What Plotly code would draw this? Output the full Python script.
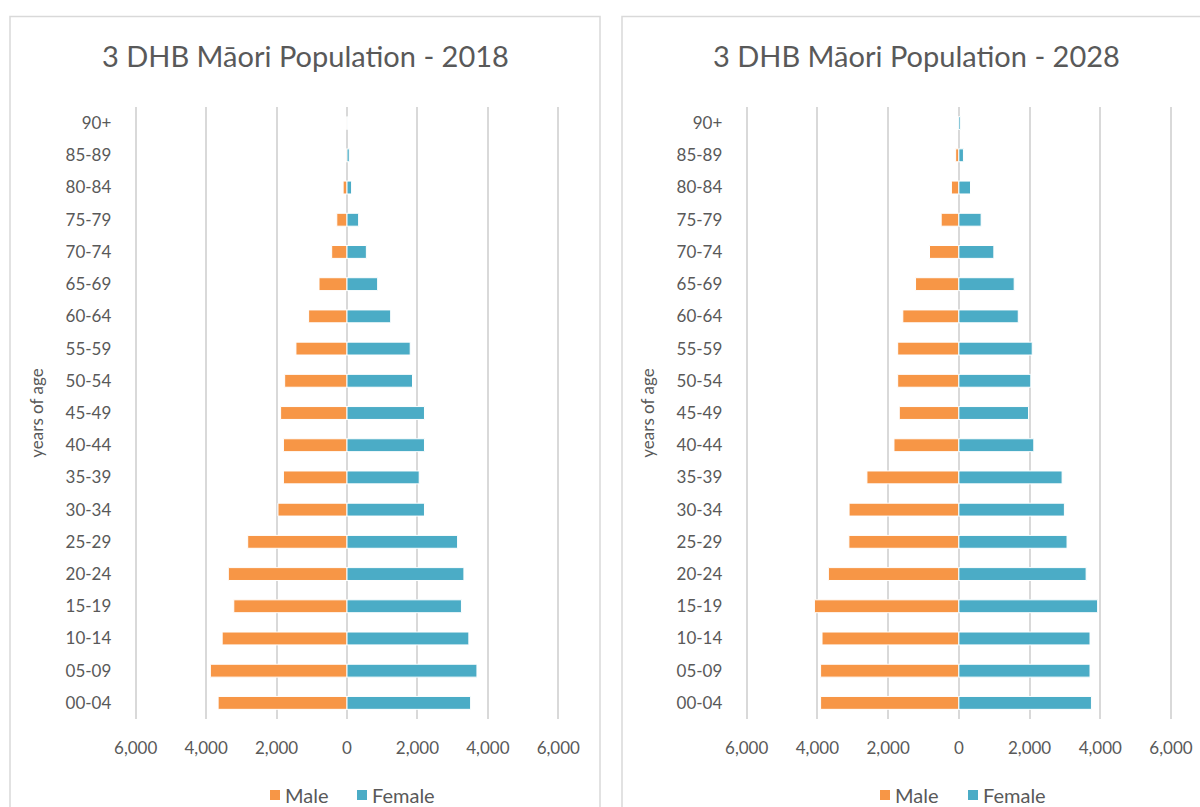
import plotly.graph_objects as go

# Age bands, bottom of the pyramid first
age_groups = ["00-04", "05-09", "10-14", "15-19", "20-24", "25-29", "30-34",
              "35-39", "40-44", "45-49", "50-54", "55-59", "60-64", "65-69",
              "70-74", "75-79", "80-84", "85-89", "90+"]

male_2018 = [3660, 3880, 3545, 3215, 3370, 2820, 1960, 1805, 1805, 1885,
             1770, 1450, 1090, 795, 435, 290, 110, 25, 5]
female_2018 = [3510, 3690, 3460, 3250, 3320, 3140, 2200, 2050, 2200, 2200,
               1860, 1795, 1240, 870, 550, 330, 130, 65, 10]

male_2028 = [3910, 3910, 3870, 4085, 3690, 3110, 3105, 2600, 1835, 1685,
             1730, 1730, 1585, 1225, 830, 500, 210, 90, 15]
female_2028 = [3750, 3710, 3710, 3925, 3600, 3060, 2985, 2920, 2120, 1970,
               2035, 2075, 1680, 1565, 990, 630, 330, 130, 50]

x_tick_values = [-6000, -4000, -2000, 0, 2000, 4000, 6000]
x_tick_labels = ["6,000", "4,000", "2,000", "0", "2,000", "4,000", "6,000"]

titles = ["3 DHB Māori Population - 2018", "3 DHB Māori Population - 2028"]
series_names = ["Male", "Female"]

MALE = "#F79646"
FEMALE = "#4BACC6"
TEXT = "#595959"
GRID = "#D9D9D9"
FONT = "Lato"

W, H = 1200, 807
X_PAD = 40  # small extension past ±6000 so the outer gridlines are drawn


def px_x(v):
    return v / W


def px_y(v):
    return 1 - v / H


fig = go.Figure()

panels = [
    dict(male=male_2018, female=female_2018, xa="x", ya="y",
         plot=(135.7, 558.3), frame=(10, 600), title=titles[0],
         title_x=305, key_x=(270, 357)),
    dict(male=male_2028, female=female_2028, xa="x2", ya="y2",
         plot=(746.7, 1171.0), frame=(622, 1220), title=titles[1],
         title_x=916, key_x=(880, 968)),
]

plot_top, plot_bottom = 107, 719
key_y = 795

for i, p in enumerate(panels):
    fig.add_trace(go.Bar(
        y=age_groups, x=[-v for v in p["male"]], orientation="h",
        name=series_names[0], marker=dict(color=MALE, line=dict(color="white", width=1)),
        xaxis=p["xa"], yaxis=p["ya"], showlegend=False,
        customdata=p["male"], hovertemplate="%{y}: %{customdata:,}<extra>Male</extra>",
    ))
    fig.add_trace(go.Bar(
        y=age_groups, x=p["female"], orientation="h",
        name=series_names[1], marker=dict(color=FEMALE, line=dict(color="white", width=1)),
        xaxis=p["xa"], yaxis=p["ya"], showlegend=False,
        hovertemplate="%{y}: %{x:,}<extra>Female</extra>",
    ))

    # pixel width of the ±6000 span, used to widen the domain by X_PAD units
    span = p["plot"][1] - p["plot"][0]
    pad_px = span * X_PAD / 12000

    sfx = "" if i == 0 else str(i + 1)
    fig.update_layout(**{
        "xaxis" + sfx: dict(
            domain=[px_x(p["plot"][0] - pad_px), px_x(p["plot"][1] + pad_px)],
            anchor="y" + sfx, range=[-6000 - X_PAD, 6000 + X_PAD],
            tickvals=x_tick_values, ticktext=x_tick_labels,
            showgrid=True, gridcolor=GRID, gridwidth=1.6,
            zeroline=True, zerolinecolor=GRID, zerolinewidth=1.6,
            showline=False, ticks="", ticklabelstandoff=17,
            tickfont=dict(family=FONT, size=17, color=TEXT),
            automargin=False, fixedrange=True,
        ),
        "yaxis" + sfx: dict(
            domain=[px_y(plot_bottom), px_y(plot_top)],
            anchor="x" + sfx, type="category",
            categoryorder="array", categoryarray=age_groups,
            showgrid=False, showline=False, ticks="", ticklabelstandoff=22,
            tickfont=dict(family=FONT, size=17, color=TEXT),
            title=dict(text="years of age", standoff=17,
                       font=dict(family=FONT, size=17, color=TEXT)),
            automargin=False, fixedrange=True,
        ),
    })

    # chart frame
    fig.add_shape(type="rect", xref="paper", yref="paper",
                  x0=px_x(p["frame"][0]), x1=px_x(p["frame"][1]),
                  y0=px_y(830), y1=px_y(16.5),
                  line=dict(color=GRID, width=1.5), fillcolor="rgba(0,0,0,0)",
                  layer="below")

    # chart title
    fig.add_annotation(text=p["title"], xref="paper", yref="paper",
                       x=px_x(p["title_x"]), y=px_y(56),
                       xanchor="center", yanchor="middle", showarrow=False,
                       font=dict(family=FONT, size=29, color=TEXT))

    # series key below the axis: coloured square followed by the series name
    for name, color, kx in zip(series_names, [MALE, FEMALE], p["key_x"]):
        fig.add_shape(type="rect", xref="paper", yref="paper",
                      x0=px_x(kx), x1=px_x(kx + 10),
                      y0=px_y(key_y + 5), y1=px_y(key_y - 5),
                      line=dict(width=0), fillcolor=color)
        fig.add_annotation(text=name, xref="paper", yref="paper",
                           x=px_x(kx + 13), y=px_y(key_y),
                           xanchor="left", yanchor="middle", showarrow=False,
                           font=dict(family=FONT, size=20, color=TEXT))

fig.update_layout(
    width=W, height=H,
    margin=dict(l=0, r=0, t=0, b=0),
    paper_bgcolor="white", plot_bgcolor="white",
    barmode="relative", bargap=0.6,
    showlegend=False,
    font=dict(family=FONT, color=TEXT),
)

fig.write_html("out.html")
